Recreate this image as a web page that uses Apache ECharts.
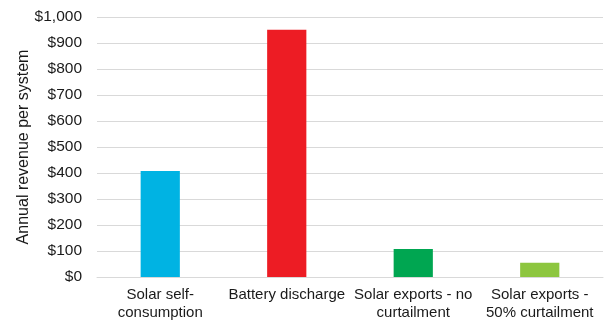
<!DOCTYPE html>
<html>
<head>
<meta charset="utf-8">
<script src="https://cdn.jsdelivr.net/npm/echarts@6/dist/echarts.min.js"></script>
<style>
  html, body { margin: 0; padding: 0; background: #fff; }
  #chart { width: 608px; height: 324px; }
</style>
</head>
<body>
<div id="chart"></div>
<script>
// Revenue streams per system
const categories = [
  'Solar self-\nconsumption',
  'Battery discharge',
  'Solar exports - no\ncurtailment',
  'Solar exports -\n50% curtailment'
];
const revenue = [408, 951, 108, 55];
const barColors = ['#00B3E3', '#ED1C24', '#00A651', '#8DC63F'];
const yTicks = { min: 0, max: 1000, interval: 100 };

const chart = echarts.init(document.getElementById('chart'));
const font = 'Liberation Sans, Arial, sans-serif';

chart.setOption({
  animation: false,
  grid: { left: 97, right: 5, top: 17, bottom: 47 },
  xAxis: {
    type: 'category',
    data: categories,
    axisLine: { show: true, lineStyle: { color: '#d9d9d9', width: 1 } },
    axisTick: { show: false },
    axisLabel: {
      interval: 0,
      hideOverlap: false,
      color: '#1a1a1a',
      fontFamily: font,
      fontSize: 15,
      lineHeight: 18,
      margin: 9
    }
  },
  yAxis: {
    type: 'value',
    min: yTicks.min,
    max: yTicks.max,
    interval: yTicks.interval,
    name: 'Annual revenue per system',
    nameLocation: 'middle',
    nameGap: 65,
    nameMoveOverlap: false,
    nameTextStyle: { color: '#1a1a1a', fontFamily: font, fontSize: 16 },
    axisLine: { show: false },
    axisTick: { show: false },
    splitLine: { lineStyle: { color: '#d9d9d9', width: 1 } },
    axisLabel: {
      color: '#1a1a1a',
      fontFamily: font,
      fontSize: 15.5,
      margin: 15,
      formatter: v => '$' + v.toLocaleString('en-US')
    }
  },
  series: [{
    type: 'bar',
    data: revenue.map((v, i) => ({ value: v, itemStyle: { color: barColors[i] } })),
    barWidth: '31%'
  }]
});
</script>
</body>
</html>
